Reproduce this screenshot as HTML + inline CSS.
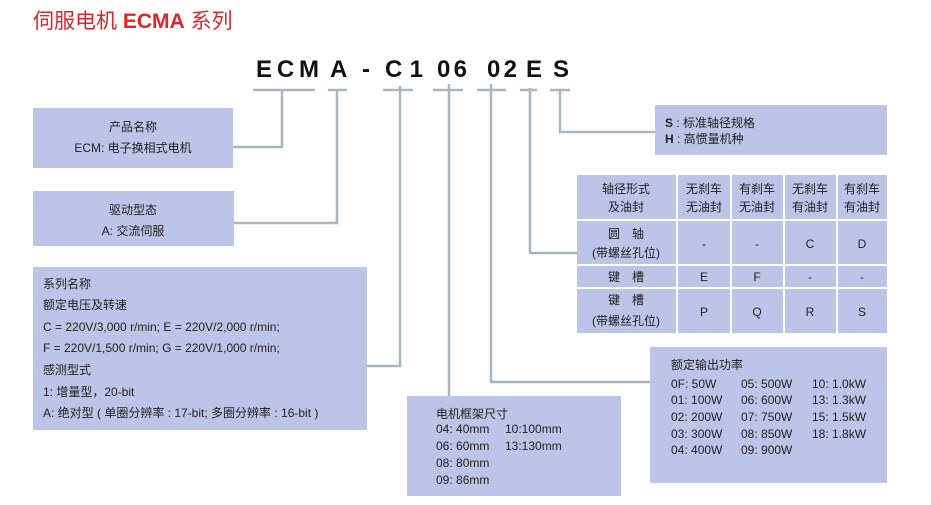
<!DOCTYPE html>
<html><head><meta charset="utf-8"><style>
html,body{margin:0;padding:0;background:#fff;}
svg{display:block;}
text{font-family:"Liberation Sans","Noto Sans CJK SC",sans-serif;fill:#222;}
.b{fill:#bcc5e7;}
.l{stroke:#a9b7c3;stroke-width:2.5;fill:none;}
.c{font-size:12px;}
.code{font-size:24px;font-weight:bold;fill:#111;}
</style></head><body>
<svg width="931" height="505" viewBox="0 0 931 505" xmlns="http://www.w3.org/2000/svg">
<text x="33" y="28" style="font-size:21px;fill:#e0242c">伺服电机 <tspan font-weight="bold">ECMA</tspan> 系列</text>

<text class="code" x="256" y="77" textLength="63" lengthAdjust="spacing">ECM</text>
<text class="code" x="330" y="77">A</text>
<text class="code" x="362" y="77">-</text>
<text class="code" x="385" y="77" textLength="38" lengthAdjust="spacing">C1</text>
<text class="code" x="437" y="77" textLength="30" lengthAdjust="spacing">06</text>
<text class="code" x="487" y="77" textLength="30" lengthAdjust="spacing">02</text>
<text class="code" x="526" y="77">E</text>
<text class="code" x="553" y="77">S</text>

<!-- connectors -->
<path class="l" d="M253 90H315M282 90V147H233"/>
<path class="l" d="M328 90H347M337 90V223H234"/>
<path class="l" d="M383 90H413M400 86V366H367"/>
<path class="l" d="M433 90H463M449 84V396"/>
<path class="l" d="M477 90H506M491 84V382H650"/>
<path class="l" d="M520 90H537M530 88V253H578"/>
<path class="l" d="M550 90H570M560 90V132H655"/>

<!-- left boxes -->
<rect class="b" x="33" y="108" width="200" height="60"/>
<text class="c" x="133" y="131" text-anchor="middle">产品名称</text>
<text class="c" x="133" y="152" text-anchor="middle">ECM: 电子换相式电机</text>

<rect class="b" x="33" y="191" width="201" height="55"/>
<text class="c" x="133" y="214" text-anchor="middle">驱动型态</text>
<text class="c" x="133" y="235" text-anchor="middle">A: 交流伺服</text>

<rect class="b" x="33" y="267" width="334" height="163"/>
<text class="c" x="43" y="288">系列名称</text>
<text class="c" x="43" y="309">额定电压及转速</text>
<text class="c" x="43" y="331">C = 220V/3,000 r/min; E = 220V/2,000 r/min;</text>
<text class="c" x="43" y="352">F = 220V/1,500 r/min; G = 220V/1,000 r/min;</text>
<text class="c" x="43" y="374">感测型式</text>
<text class="c" x="43" y="396">1: 增量型，20-bit</text>
<text class="c" x="43" y="417">A: 绝对型 ( 单圈分辨率 : 17-bit; 多圈分辨率 : 16-bit )</text>

<!-- S/H box -->
<rect class="b" x="655" y="105" width="232" height="50"/>
<text class="c" x="665" y="127"><tspan font-weight="bold">S</tspan> : 标准轴径规格</text>
<text class="c" x="665" y="143"><tspan font-weight="bold">H</tspan> : 高惯量机种</text>

<!-- table -->
<g>
<rect class="b" x="577" y="175" width="99" height="44"/>
<rect class="b" x="678" y="175" width="52" height="44"/>
<rect class="b" x="732" y="175" width="51" height="44"/>
<rect class="b" x="785" y="175" width="51" height="44"/>
<rect class="b" x="838" y="175" width="49" height="44"/>
<rect class="b" x="577" y="221" width="99" height="43"/>
<rect class="b" x="678" y="221" width="52" height="43"/>
<rect class="b" x="732" y="221" width="51" height="43"/>
<rect class="b" x="785" y="221" width="51" height="43"/>
<rect class="b" x="838" y="221" width="49" height="43"/>
<rect class="b" x="577" y="266" width="99" height="21"/>
<rect class="b" x="678" y="266" width="52" height="21"/>
<rect class="b" x="732" y="266" width="51" height="21"/>
<rect class="b" x="785" y="266" width="51" height="21"/>
<rect class="b" x="838" y="266" width="49" height="21"/>
<rect class="b" x="577" y="289" width="99" height="44"/>
<rect class="b" x="678" y="289" width="52" height="44"/>
<rect class="b" x="732" y="289" width="51" height="44"/>
<rect class="b" x="785" y="289" width="51" height="44"/>
<rect class="b" x="838" y="289" width="49" height="44"/>
</g>
<g class="c" text-anchor="middle">
<text x="626" y="193">轴径形式</text><text x="626" y="211">及油封</text>
<text x="704" y="193">无刹车</text><text x="704" y="211">无油封</text>
<text x="757" y="193">有刹车</text><text x="757" y="211">无油封</text>
<text x="810" y="193">无刹车</text><text x="810" y="211">有油封</text>
<text x="862" y="193">有刹车</text><text x="862" y="211">有油封</text>
<text x="626" y="238">圆　轴</text><text x="626" y="257">(带螺丝孔位)</text>
<text x="704" y="248">-</text><text x="757" y="248">-</text>
<text x="810" y="248">C</text><text x="862" y="248">D</text>
<text x="626" y="281">键　槽</text>
<text x="704" y="281">E</text><text x="757" y="281">F</text>
<text x="810" y="281">-</text><text x="862" y="281">-</text>
<text x="626" y="304">键　槽</text><text x="626" y="325">(带螺丝孔位)</text>
<text x="704" y="316">P</text><text x="757" y="316">Q</text>
<text x="810" y="316">R</text><text x="862" y="316">S</text>
</g>

<!-- power box -->
<rect class="b" x="650" y="347" width="237" height="136"/>
<g class="c">
<text x="671" y="369">额定输出功率</text>
<text x="671" y="388">0F: 50W</text><text x="741" y="388">05: 500W</text><text x="812" y="388">10: 1.0kW</text>
<text x="671" y="404">01: 100W</text><text x="741" y="404">06: 600W</text><text x="812" y="404">13: 1.3kW</text>
<text x="671" y="421">02: 200W</text><text x="741" y="421">07: 750W</text><text x="812" y="421">15: 1.5kW</text>
<text x="671" y="438">03: 300W</text><text x="741" y="438">08: 850W</text><text x="812" y="438">18: 1.8kW</text>
<text x="671" y="454">04: 400W</text><text x="741" y="454">09: 900W</text>
</g>

<!-- frame box -->
<rect class="b" x="407" y="396" width="214" height="100"/>
<g class="c">
<text x="436" y="418">电机框架尺寸</text>
<text x="436" y="433">04: 40mm</text><text x="505" y="433">10:100mm</text>
<text x="436" y="450">06: 60mm</text><text x="505" y="450">13:130mm</text>
<text x="436" y="467">08: 80mm</text>
<text x="436" y="484">09: 86mm</text>
</g>
</svg>
</body></html>
